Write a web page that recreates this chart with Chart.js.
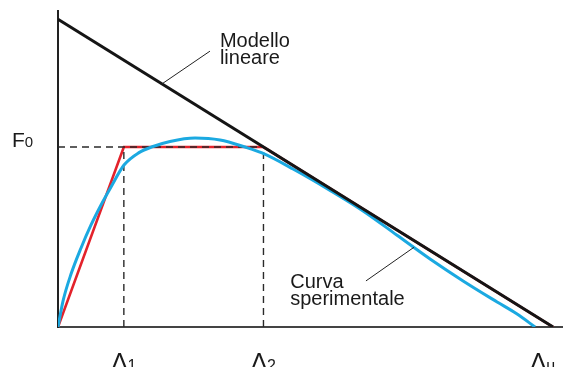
<!DOCTYPE html>
<html>
<head>
<meta charset="utf-8">
<script src="https://cdn.jsdelivr.net/npm/chart.js@4"></script>
<style>
  html, body { margin: 0; padding: 0; background: #fff; }
  #wrap { width: 563px; height: 367px; }
</style>
</head>
<body>
<div id="wrap"><canvas id="c" width="563" height="367"></canvas></div>
<script>
// Displacement axis (0 .. Δu = 100) and force axis (F0 = 100)
const DELTA_1 = 13.3;
const DELTA_2 = 41.5;
const DELTA_U = 100;
const F0 = 100;
const LINEAR_INTERCEPT = 171;   // force of the linear model at zero displacement

// Linear model: straight line from the intercept down to Δu
const linearModel = [
  { x: 0, y: LINEAR_INTERCEPT },
  { x: DELTA_U, y: 0 }
];

// Idealised trilinear law (elastic branch, plateau, softening branch)
const trilinear = [
  { x: 0, y: 0 },
  { x: DELTA_1, y: F0 },
  { x: DELTA_2, y: F0 },
  { x: DELTA_U, y: 0 }
];

// Experimental curve
const expX = [0, 1.01, 2.63, 4.65, 6.67, 8.69, 10.71, 13.33, 16.36, 19.19, 22.63, 27.68, 32.73, 37.78, 41.21, 47.47, 54.95, 61.62, 68.48, 75.15, 81.82, 88.69, 92.73, 96.36];
const expY = [0, 14.4, 29.4, 43.9, 56.7, 67.8, 77.8, 90.0, 96.9, 100.3, 103.1, 105.0, 103.9, 100.0, 96.7, 87.8, 75.9, 64.5, 51.0, 37.8, 25.6, 13.9, 7.2, 0];

// Axis tick labels
const xTickValues = [DELTA_1, DELTA_2, DELTA_U];
const xTickMain = ['Δ', 'Δ', 'Δ'];
const xTickSub = ['1', '2', 'u'];
const yTickMain = 'F';
const yTickSub = '0';

// Callout texts and the points they describe
const calloutLinear = ['Modello', 'lineare'];
const calloutLinearAt = { x: 32.7, y: 155.6 };
const calloutLinearLeader = [{ x: 30.7, y: 153.3 }, { x: 21.0, y: 135.1 }];
const calloutExp = ['Curva', 'sperimentale'];
const calloutExpAt = { x: 46.9, y: 21.7 };
const calloutExpLeader = [{ x: 62.2, y: 25.6 }, { x: 71.9, y: 44.3 }];

const experimental = expX.map((x, i) => ({ x, y: expY[i] }));

// Dashed construction lines (null breaks the path between pieces)
const guides = [
  { x: 0, y: F0 }, { x: DELTA_2, y: F0 }, { x: null, y: null },
  { x: DELTA_1, y: 0 }, { x: DELTA_1, y: F0 }, { x: null, y: null },
  { x: DELTA_2, y: 0 }, { x: DELTA_2, y: F0 }
];

const FONT = '"Liberation Sans", Arial, sans-serif';
const TEXT = '#1a1a1a';

const labelsPlugin = {
  id: 'labels',
  afterDatasetsDraw(chart) {
    const { ctx, scales: { x: xs, y: ys } } = chart;
    ctx.save();
    ctx.fillStyle = TEXT;
    ctx.textBaseline = 'alphabetic';

    // x tick labels: Δ with small subscript
    xTickValues.forEach((v, i) => {
      const px = xs.getPixelForValue(v);
      ctx.font = '24px ' + FONT;
      const wMain = ctx.measureText(xTickMain[i]).width;
      ctx.font = '16px ' + FONT;
      const wSub = ctx.measureText(xTickSub[i]).width;
      const total = wMain + wSub;
      let left = px - total / 2;
      if (i === xTickValues.length - 1) left = px + 2 - total;
      const base = ys.getPixelForValue(0) + 43;
      ctx.font = '24px ' + FONT;
      ctx.fillText(xTickMain[i], left, base);
      ctx.font = '16px ' + FONT;
      ctx.fillText(xTickSub[i], left + wMain, base + 1);
    });

    // y tick label F0
    const py = ys.getPixelForValue(F0);
    const ax = xs.getPixelForValue(0);
    ctx.font = '21px ' + FONT;
    const wF = ctx.measureText(yTickMain).width;
    ctx.fillText(yTickMain, ax - 46, py);
    ctx.font = '15px ' + FONT;
    ctx.fillText(yTickSub, ax - 46 + wF, py);

    // callouts
    const drawCallout = (lines, at, leader) => {
      ctx.strokeStyle = '#222';
      ctx.lineWidth = 1;
      ctx.beginPath();
      ctx.moveTo(xs.getPixelForValue(leader[0].x), ys.getPixelForValue(leader[0].y));
      ctx.lineTo(xs.getPixelForValue(leader[1].x), ys.getPixelForValue(leader[1].y));
      ctx.stroke();
      ctx.font = '20px ' + FONT;
      const lx = xs.getPixelForValue(at.x);
      const ly = ys.getPixelForValue(at.y);
      lines.forEach((t, k) => ctx.fillText(t, lx, ly + k * 17));
    };
    drawCallout(calloutLinear, calloutLinearAt, calloutLinearLeader);
    drawCallout(calloutExp, calloutExpAt, calloutExpLeader);
    ctx.restore();
  }
};

new Chart(document.getElementById('c'), {
  type: 'line',
  data: {
    datasets: [
      { label: 'Modello lineare', data: linearModel, borderColor: '#151515', borderWidth: 3, pointRadius: 0, tension: 0 },
      { label: 'Curva sperimentale', data: experimental, borderColor: '#1ba9e1', borderWidth: 3, pointRadius: 0, cubicInterpolationMode: 'monotone' },
      { label: 'guide', data: guides, borderColor: '#2a2a2a', borderWidth: 1.4, borderDash: [7, 5], pointRadius: 0, spanGaps: false },
      { label: 'Trilineare', data: trilinear, borderColor: '#e3222b', borderWidth: 2.6, pointRadius: 0, tension: 0 }
    ]
  },
  options: {
    responsive: false,
    animation: false,
    layout: { padding: { left: 58, top: 11, right: 0, bottom: 40 } },
    plugins: { legend: { display: false }, tooltip: { enabled: false } },
    scales: {
      x: {
        type: 'linear', min: 0, max: 102,
        grid: { display: false, drawTicks: false },
        border: { display: true, color: '#444', width: 2 },
        ticks: { display: false },
        afterFit(s) { s.height = 0; }
      },
      y: {
        type: 'linear', min: 0, max: 175.6,
        grid: { display: false, drawTicks: false },
        border: { display: true, color: '#222', width: 2 },
        ticks: { display: false },
        afterFit(s) { s.width = 0; }
      }
    }
  },
  plugins: [labelsPlugin]
});
</script>
</body>
</html>
